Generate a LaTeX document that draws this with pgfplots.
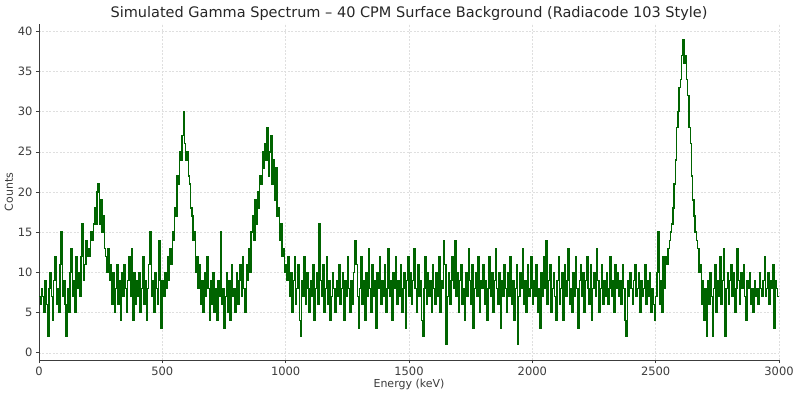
\documentclass[border=0pt]{standalone}
\usepackage{fontspec}
\setmainfont{DejaVu Sans}
\usepackage{pgfplots}
\pgfplotsset{compat=1.18}
\definecolor{specgreen}{RGB}{0,100,0}
\definecolor{axgray}{RGB}{60,60,60}
\begin{document}
\begin{tikzpicture}
\begin{axis}[
  at={(0,0)}, anchor=south west,
  scale only axis,
  width=740pt, height=336pt,
  xmin=0, xmax=3000, ymin=-0.9, ymax=40.9,
  axis lines*=left,
  axis line style={axgray, line width=0.6pt},
  tick align=outside,
  major tick length=3pt,
  tick style={axgray, line width=0.6pt},
  xtick={0,500,...,3000},
  ytick={0,5,...,40},
  grid=major,
  major grid style={gray!25, dash pattern=on 2pt off 1.5pt, line width=0.5pt},
  /pgf/number format/assume math mode=true,
  /pgf/number format/1000 sep={},
  scaled ticks=false,
  tick label style={font=\fontsize{11.5}{13}\selectfont, text=axgray},
  label style={font=\fontsize{11}{13}\selectfont, text=axgray},
  xlabel={Energy (keV)},
  ylabel={Counts},
  xlabel style={yshift=3pt},
  ylabel style={yshift=-2pt},
  title={Simulated Gamma Spectrum – 40 CPM Surface Background (Radiacode 103 Style)},
  title style={font=\fontsize{14.5}{16}\selectfont, text=black!85, yshift=-6pt},
  clip=true,
]
\addplot[const plot, color=specgreen, line width=1.4pt] coordinates {
(0,7)(5,6)(10,8)(15,7)(20,5)(25,9)(30,6)(35,2)(40,8)(45,10)(50,7)(55,4)(60,9)(65,12)(70,6)(75,8)(80,5)(85,11)(90,15)(95,7)
(100,9)(105,6)(110,2)(115,8)(120,5)(125,10)(130,13)(135,7)(140,9)(145,5)(150,12)(155,8)(160,10)(165,7)(170,12)(175,16)(180,9)(185,11)(190,14)(195,12)
(200,13)(205,12)(210,15)(215,14)(220,16)(225,18)(230,16)(235,20)(240,21)(245,16)(250,19)(255,15)(260,17)(265,13)(270,12)(275,10)(280,13)(285,9)(290,11)(295,6)
(300,10)(305,5)(310,8)(315,11)(320,6)(325,9)(330,4)(335,10)(340,7)(345,11)(350,8)(355,5)(360,9)(365,12)(370,7)(375,13)(380,4)(385,10)(390,6)(395,9)
(400,7)(405,10)(410,5)(415,8)(420,12)(425,6)(430,9)(435,4)(440,8)(445,11)(450,15)(455,7)(460,9)(465,5)(470,10)(475,8)(480,6)(485,14)(490,9)(495,3)
(500,9)(505,7)(510,10)(515,8)(520,12)(525,9)(530,13)(535,11)(540,15)(545,14)(550,18)(555,17)(560,22)(565,21)(570,25)(575,24)(580,27)(585,30)(590,26)(595,24)
(600,25)(605,22)(610,21)(615,18)(620,17)(625,14)(630,15)(635,10)(640,12)(645,8)(650,11)(655,6)(660,9)(665,5)(670,10)(675,7)(680,12)(685,8)(690,4)(695,9)
(700,6)(705,10)(710,5)(715,8)(720,4)(725,9)(730,7)(735,15)(740,6)(745,8)(750,3)(755,7)(760,10)(765,5)(770,9)(775,4)(780,11)(785,7)(790,8)(795,5)
(800,10)(805,6)(810,9)(815,11)(820,7)(825,12)(830,8)(835,5)(840,11)(845,9)(850,13)(855,10)(860,15)(865,17)(870,14)(875,19)(880,16)(885,20)(890,18)(895,22)
(900,21)(905,25)(910,23)(915,26)(920,24)(925,28)(930,22)(935,25)(940,27)(945,21)(950,24)(955,19)(960,23)(965,17)(970,18)(975,14)(980,16)(985,12)(990,13)(995,10)
(1000,11)(1005,9)(1010,12)(1015,7)(1020,10)(1025,5)(1030,9)(1035,12)(1040,6)(1045,8)(1050,11)(1055,4)(1060,2)(1065,9)(1070,7)(1075,12)(1080,6)(1085,10)(1090,8)(1095,5)
(1100,9)(1105,7)(1110,11)(1115,4)(1120,8)(1125,10)(1130,6)(1135,16)(1140,9)(1145,7)(1150,11)(1155,5)(1160,8)(1165,12)(1170,6)(1175,9)(1180,4)(1185,7)(1190,10)(1195,8)
(1200,5)(1205,9)(1210,7)(1215,11)(1220,6)(1225,8)(1230,10)(1235,4)(1240,9)(1245,7)(1250,12)(1255,8)(1260,5)(1265,9)(1270,6)(1275,10)(1280,14)(1285,11)(1290,7)(1295,3)
(1300,8)(1305,12)(1310,6)(1315,9)(1320,4)(1325,10)(1330,7)(1335,13)(1340,8)(1345,5)(1350,11)(1355,7)(1360,9)(1365,3)(1370,10)(1375,8)(1380,12)(1385,6)(1390,9)(1395,7)
(1400,11)(1405,5)(1410,8)(1415,13)(1420,7)(1425,9)(1430,4)(1435,10)(1440,8)(1445,12)(1450,6)(1455,9)(1460,7)(1465,11)(1470,5)(1475,8)(1480,10)(1485,3)(1490,9)(1495,12)
(1500,7)(1505,10)(1510,6)(1515,9)(1520,13)(1525,8)(1530,5)(1535,11)(1540,7)(1545,9)(1550,4)(1555,2)(1560,8)(1565,12)(1570,6)(1575,10)(1580,7)(1585,9)(1590,5)(1595,11)
(1600,8)(1605,6)(1610,10)(1615,7)(1620,12)(1625,5)(1630,9)(1635,8)(1640,14)(1645,11)(1650,1)(1655,7)(1660,10)(1665,6)(1670,9)(1675,12)(1680,8)(1685,14)(1690,7)(1695,10)
(1700,5)(1705,9)(1710,11)(1715,6)(1720,8)(1725,4)(1730,10)(1735,7)(1740,13)(1745,9)(1750,6)(1755,11)(1760,3)(1765,8)(1770,10)(1775,7)(1780,12)(1785,5)(1790,9)(1795,8)
(1800,11)(1805,6)(1810,9)(1815,4)(1820,8)(1825,12)(1830,7)(1835,10)(1840,5)(1845,9)(1850,13)(1855,8)(1860,6)(1865,10)(1870,3)(1875,9)(1880,7)(1885,11)(1890,8)(1895,5)
(1900,10)(1905,7)(1910,12)(1915,6)(1920,9)(1925,4)(1930,8)(1935,11)(1940,1)(1945,7)(1950,10)(1955,8)(1960,13)(1965,6)(1970,9)(1975,5)(1980,11)(1985,7)(1990,8)(1995,12)
(2000,6)(2005,9)(2010,7)(2015,11)(2020,5)(2025,8)(2030,3)(2035,10)(2040,7)(2045,12)(2050,8)(2055,14)(2060,6)(2065,9)(2070,11)(2075,5)(2080,8)(2085,10)(2090,7)(2095,4)
(2100,9)(2105,12)(2110,6)(2115,8)(2120,10)(2125,4)(2130,11)(2135,7)(2140,9)(2145,13)(2150,6)(2155,8)(2160,5)(2165,10)(2170,7)(2175,12)(2180,8)(2185,3)(2190,9)(2195,11)
(2200,7)(2205,10)(2210,5)(2215,9)(2220,12)(2225,8)(2230,6)(2235,11)(2240,4)(2245,8)(2250,10)(2255,7)(2260,13)(2265,9)(2270,5)(2275,8)(2280,11)(2285,6)(2290,9)(2295,7)
(2300,10)(2305,6)(2310,8)(2315,12)(2320,7)(2325,9)(2330,5)(2335,11)(2340,8)(2345,10)(2350,7)(2355,9)(2360,6)(2365,11)(2370,8)(2375,4)(2380,2)(2385,9)(2390,7)(2395,10)
(2400,8)(2405,6)(2410,9)(2415,11)(2420,7)(2425,8)(2430,10)(2435,5)(2440,9)(2445,7)(2450,8)(2455,11)(2460,6)(2465,9)(2470,7)(2475,10)(2480,5)(2485,8)(2490,6)(2495,4)
(2500,7)(2505,10)(2510,15)(2515,6)(2520,9)(2525,5)(2530,12)(2535,8)(2540,12)(2545,11)(2550,13)(2555,14)(2560,15)(2565,16)(2570,18)(2575,21)(2580,24)(2585,28)(2590,30)(2595,33)
(2600,34)(2605,37)(2610,39)(2615,36)(2620,37)(2625,34)(2630,32)(2635,28)(2640,26)(2645,22)(2650,19)(2655,17)(2660,15)(2665,14)(2670,13)(2675,10)(2680,11)(2685,6)(2690,9)(2695,4)
(2700,8)(2705,2)(2710,9)(2715,6)(2720,10)(2725,7)(2730,2)(2735,8)(2740,11)(2745,5)(2750,9)(2755,7)(2760,12)(2765,6)(2770,9)(2775,13)(2780,2)(2785,8)(2790,10)(2795,6)
(2800,9)(2805,11)(2810,7)(2815,10)(2820,5)(2825,8)(2830,13)(2835,9)(2840,6)(2845,10)(2850,8)(2855,11)(2860,7)(2865,4)(2870,9)(2875,8)(2880,10)(2885,6)(2890,8)(2895,5)
(2900,9)(2905,7)(2910,8)(2915,6)(2920,10)(2925,8)(2930,7)(2935,9)(2940,12)(2945,7)(2950,8)(2955,10)(2960,6)(2965,9)(2970,8)(2975,11)(2980,3)(2985,9)(2990,8)(2995,7)
(3000,7)
};
\end{axis}
\path[use as bounding box] (-39pt,-37pt) rectangle (761pt,360pt);
\end{tikzpicture}
\end{document}
